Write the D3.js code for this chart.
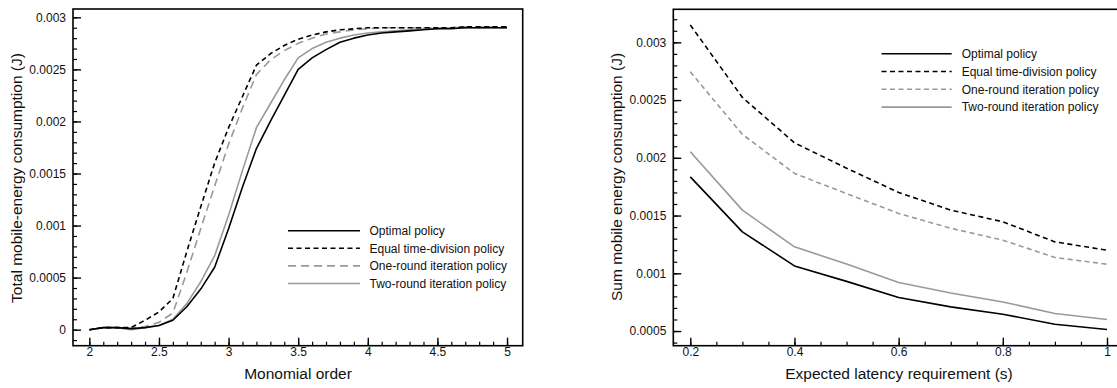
<!DOCTYPE html>
<html><head><meta charset="utf-8">
<script src="https://cdn.jsdelivr.net/npm/d3@7"></script>
<style>
body{margin:0;background:#fff;}
svg{display:block;font-family:"Liberation Sans",Arial,Helvetica,sans-serif;}
</style></head><body>
<svg id="c" width="1117" height="388"></svg>
<script>
// ---- Left panel data ----
const orderX = [2.0,2.1,2.2,2.3,2.4,2.5,2.6,2.7,2.8,2.9,3.0,3.1,3.2,3.3,3.4,3.5,3.6,3.7,3.8,3.9,4.0,4.1,4.2,4.3,4.4,4.5,4.6,4.7,4.8,4.9,5.0];
const leftOptimal = [0,0.00002,0.00002,0.00001,0.00002,0.00004,0.00009,0.00022,0.00039,0.0006,0.00097,0.00137,0.00174,0.002,0.00225,0.0025,0.00261,0.00269,0.00276,0.0028,0.00283,0.00285,0.00286,0.00287,0.00288,0.00289,0.00289,0.0029,0.0029,0.0029,0.0029];
const leftEqual = [0,0.00002,0.00002,0.00002,0.00009,0.00017,0.0003,0.00075,0.00118,0.0016,0.00194,0.00224,0.00254,0.00265,0.00273,0.00279,0.00283,0.00286,0.00288,0.00289,0.0029,0.0029,0.0029,0.0029,0.0029,0.0029,0.0029,0.00291,0.00291,0.00291,0.00291];
const leftOneRound = [0,0.00002,0.00002,0.00001,0.00003,0.00007,0.00016,0.00055,0.00097,0.00138,0.00178,0.00213,0.00245,0.00259,0.00268,0.00275,0.0028,0.00284,0.00286,0.00288,0.00289,0.0029,0.0029,0.0029,0.0029,0.0029,0.0029,0.00291,0.00291,0.00291,0.00291];
const leftTwoRound = [0,0.00002,0.00002,0,0.00002,0.00004,0.0001,0.00025,0.00046,0.00071,0.0011,0.00153,0.00194,0.00217,0.0024,0.00261,0.0027,0.00276,0.0028,0.00283,0.00285,0.00286,0.00287,0.00288,0.00289,0.00289,0.0029,0.0029,0.0029,0.0029,0.0029];
const leftXTicks = [2,2.5,3,3.5,4,4.5,5];
const leftXTickLabels = ["2","2.5","3","3.5","4","4.5","5"];
const leftYTicks = [0,0.0005,0.001,0.0015,0.002,0.0025,0.003];
const leftYTickLabels = ["0","0.0005","0.001","0.0015","0.002","0.0025","0.003"];

// ---- Right panel data ----
const latencyX = [0.2,0.3,0.4,0.5,0.6,0.7,0.8,0.9,1.0];
const rightOptimal = [0.001835,0.001359,0.001064,0.00093,0.00079,0.000709,0.000646,0.000559,0.000513];
const rightEqual = [0.00315,0.002523,0.00213,0.00191,0.0017,0.001547,0.001446,0.001272,0.0012];
const rightOneRound = [0.002745,0.002203,0.001865,0.00169,0.001518,0.00139,0.001287,0.001137,0.001079];
const rightTwoRound = [0.002052,0.001547,0.001229,0.00108,0.00092,0.00083,0.000752,0.000652,0.0006];
const rightXTicks = [0.2,0.4,0.6,0.8,1];
const rightXTickLabels = ["0.2","0.4","0.6","0.8","1"];
const rightYTicks = [0.0005,0.001,0.0015,0.002,0.0025,0.003];
const rightYTickLabels = ["0.0005","0.001","0.0015","0.002","0.0025","0.003"];

const seriesNames = ["Optimal policy","Equal time-division policy","One-round iteration policy","Two-round iteration policy"];

const svg = d3.select("#c");

function panel(cfg){
  const g = svg.append("g");
  const x = d3.scaleLinear().domain(cfg.xDomain).range([cfg.left, cfg.right]);
  const y = d3.scaleLinear().domain(cfg.yDomain).range([cfg.bottom, cfg.top]);
  const cid = "clip"+cfg.id;
  svg.append("clipPath").attr("id",cid).append("rect")
    .attr("x",cfg.left).attr("y",cfg.top).attr("width",cfg.right-cfg.left).attr("height",cfg.bottom-cfg.top);

  // minor ticks
  g.append("g").attr("transform",`translate(0,${cfg.bottom})`)
    .call(d3.axisBottom(x).tickValues(cfg.xMinor).tickSize(-4).tickFormat(""))
    .call(s=>{s.select(".domain").remove(); s.selectAll("line").attr("stroke","#000").attr("stroke-width",1.2);});
  g.append("g").attr("transform",`translate(${cfg.left},0)`)
    .call(d3.axisLeft(y).tickValues(cfg.yMinor).tickSize(-4).tickFormat(""))
    .call(s=>{s.select(".domain").remove(); s.selectAll("line").attr("stroke","#000").attr("stroke-width",1.2);});
  // major ticks
  g.append("g").attr("transform",`translate(0,${cfg.bottom})`)
    .call(d3.axisBottom(x).tickValues(cfg.xTicks).tickSize(-8).tickPadding(1.5)
      .tickFormat((d,i)=>cfg.xLabels[i]))
    .call(s=>{s.select(".domain").remove(); s.selectAll("line").attr("stroke","#000").attr("stroke-width",1.4);
      s.selectAll("text").attr("font-size",12).attr("fill","#111").attr("font-family","Liberation Sans, Arial, sans-serif");});
  g.append("g").attr("transform",`translate(${cfg.left},0)`)
    .call(d3.axisLeft(y).tickValues(cfg.yTicks).tickSize(-8).tickPadding(7)
      .tickFormat((d,i)=>cfg.yLabels[i]))
    .call(s=>{s.select(".domain").remove(); s.selectAll("line").attr("stroke","#000").attr("stroke-width",1.4);
      s.selectAll("text").attr("font-size",12).attr("fill","#111").attr("font-family","Liberation Sans, Arial, sans-serif");});

  const styles = [
    {c:"#000", dash:null, w:1.6},
    {c:"#000", dash:"5,3.5", w:1.6},
    {c:"#999", dash:cfg.grayDash, w:1.6},
    {c:"#999", dash:null, w:1.6}
  ];
  const line = d3.line().x((d,i)=>x(cfg.xs[i])).y(d=>y(d));
  const lg = g.append("g").attr("clip-path",`url(#${cid})`);
  [3,2,0,1].forEach(k=>{
    lg.append("path").datum(cfg.series[k]).attr("d",line).attr("fill","none")
      .attr("stroke",styles[k].c).attr("stroke-width",styles[k].w)
      .attr("stroke-dasharray",styles[k].dash).attr("stroke-linejoin","round");
  });

  g.append("rect").attr("x",cfg.left).attr("y",cfg.top)
    .attr("width",cfg.right-cfg.left).attr("height",cfg.bottom-cfg.top)
    .attr("fill","none").attr("stroke","#000").attr("stroke-width",1.6);

  const leg = g.append("g");
  seriesNames.forEach((n,k)=>{
    const yy = cfg.legY + k*cfg.legStep;
    leg.append("line").attr("x1",cfg.legX1).attr("x2",cfg.legX2).attr("y1",yy).attr("y2",yy)
      .attr("stroke",styles[k].c).attr("stroke-width",1.6).attr("stroke-dasharray",k===2?cfg.legGrayDash:styles[k].dash);
    leg.append("text").attr("x",cfg.legTX).attr("y",yy).attr("dy","0.35em")
      .attr("font-size",12).attr("fill","#111").text(n);
  });

  g.append("text").attr("x",cfg.xTitleX).attr("y",cfg.xTitleY).attr("text-anchor","middle")
    .attr("font-size",15.5).attr("fill","#111").text(cfg.xTitle);
  g.append("text").attr("transform",`translate(${cfg.yTitleX},${cfg.yTitleY}) rotate(-90)`)
    .attr("text-anchor","middle").attr("font-size",15.5).attr("fill","#111").text(cfg.yTitle);
}

const range = (a,b,s)=>d3.range(Math.round((b-a)/s)+1).map(i=>+(a+i*s).toFixed(6));

panel({
  id:"L", left:73, right:522.7, top:9, bottom:345.7,
  xDomain:[1.8826,5.1126], yDomain:[-0.000154,0.00308],
  xs:orderX, series:[leftOptimal,leftEqual,leftOneRound,leftTwoRound],
  xTicks:leftXTicks, xLabels:leftXTickLabels, yTicks:leftYTicks, yLabels:leftYTickLabels,
  xMinor:range(2,5,0.1), yMinor:range(-0.0001,0.003,0.0001),
  grayDash:"8,5", legGrayDash:"8,5",
  legX1:288, legX2:360, legTX:369.5, legY:230.7, legStep:17.6,
  xTitle:"Monomial order", xTitleX:298, xTitleY:379,
  yTitle:"Total mobile-energy consumption (J)", yTitleX:22, yTitleY:178
});

panel({
  id:"R", left:673.3, right:1124, top:9.3, bottom:345.7,
  xDomain:[0.16737,1.03263], yDomain:[0.000373,0.003286],
  xs:latencyX, series:[rightOptimal,rightEqual,rightOneRound,rightTwoRound],
  xTicks:rightXTicks, xLabels:rightXTickLabels, yTicks:rightYTicks, yLabels:rightYTickLabels,
  xMinor:range(0.2,1,0.05), yMinor:range(0.0004,0.0032,0.0001),
  grayDash:"5,3.5", legGrayDash:"5,3.5",
  legX1:881.5, legX2:951.7, legTX:961.7, legY:53.7, legStep:17.8,
  xTitle:"Expected latency requirement (s)", xTitleX:899, xTitleY:379,
  yTitle:"Sum mobile energy consumption (J)", yTitleX:622, yTitleY:177
});
</script>
</body></html>
